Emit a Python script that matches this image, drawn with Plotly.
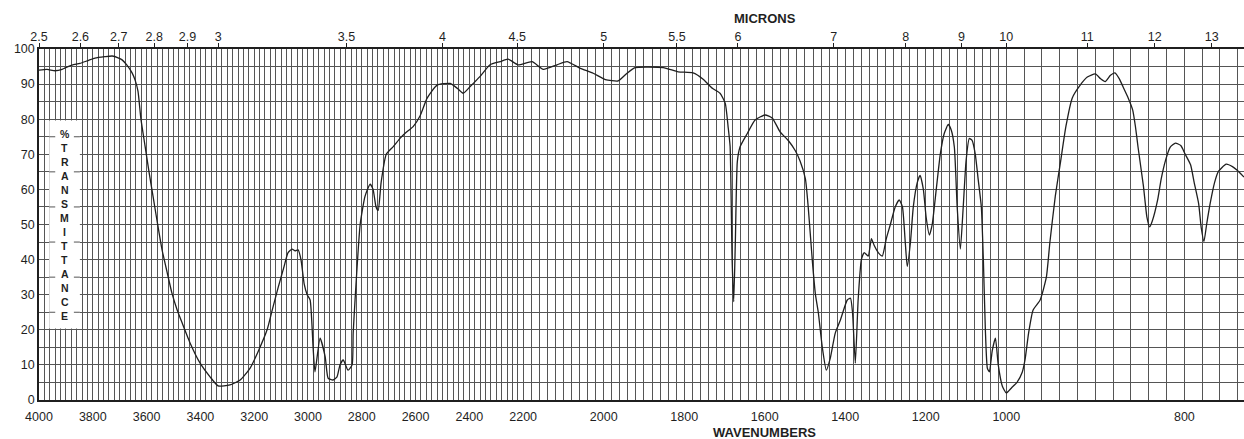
import numpy as np
import plotly.graph_objects as go

# ---------------- data ----------------
wavenumber = [4000, 3970, 3940, 3914, 3903, 3877, 3848, 3818, 3792, 3755, 3728, 3706, 3691, 3673,
              3654, 3643, 3632, 3621, 3606, 3591, 3576, 3561, 3543, 3524, 3506, 3487, 3468, 3438, 3401,
              3364, 3334, 3290, 3252, 3215, 3186, 3152, 3133, 3111, 3089, 3074, 3059, 3048, 3037,
              3026, 3014, 3003, 2992, 2981, 2974, 2955, 2936, 2925, 2907, 2892, 2881, 2869, 2851,
              2836, 2832, 2825, 2806, 2788, 2769, 2758, 2747, 2739, 2728, 2709, 2683, 2657, 2639,
              2609, 2583, 2557, 2520, 2471, 2445, 2423, 2397, 2360, 2323, 2286, 2256, 2219, 2178,
              2150, 2116, 2091, 2058, 2026, 1996, 1964, 1942, 1922, 1852, 1815, 1778, 1753, 1730,
              1711, 1698, 1691, 1686, 1681, 1677, 1673, 1668, 1661, 1643, 1624, 1599, 1581, 1562,
              1542, 1524, 1512, 1499, 1492, 1482, 1474, 1467, 1457, 1447, 1437, 1425, 1412, 1395,
              1387, 1382, 1375, 1368, 1360, 1353, 1343, 1335, 1328, 1318, 1308, 1298, 1288, 1276,
              1266, 1258, 1251, 1246, 1238, 1231, 1221, 1214, 1206, 1199, 1191, 1184, 1174, 1164,
              1154, 1144, 1137, 1129, 1122, 1114, 1107, 1100, 1092, 1085, 1077, 1070, 1062, 1057,
              1052, 1047, 1042, 1035, 1027, 1020, 1010, 1000, 994, 988, 982, 979, 975, 970, 962,
              955, 951, 945, 939, 933, 926, 917, 909, 900, 894, 889, 883, 878, 873, 869, 863, 858,
              855, 852, 846, 842, 839, 836, 830, 826, 821, 816, 810, 804, 799, 793, 789, 784, 781,
              778, 775, 771, 766, 762, 753, 746, 741, 733]
transmittance = [94.0, 94.2, 93.8, 94.2, 94.6, 95.4, 95.9, 96.7, 97.4, 97.8, 98.0, 97.5, 96.9, 95.4,
                 93.2, 91.2, 88.0, 80.0, 72.5, 65.0, 58.0, 51.0, 43.0, 36.5, 30.5, 25.8, 22.0, 16.2, 10.5,
                 6.6, 4.0, 4.3, 5.7, 9.1, 13.7, 20.0, 25.6, 32.0, 38.0, 42.0, 43.0, 42.5, 42.8,
                 40.0, 33.0, 30.0, 28.5, 15.0, 8.0, 17.6, 12.3, 6.2, 5.7, 6.6, 10.0, 11.4, 8.5,
                 10.0, 19.0, 28.5, 50.0, 58.0, 61.5, 60.0, 55.0, 54.0, 62.0, 70.0, 72.2, 74.6, 76.0,
                 77.9, 81.0, 86.0, 89.7, 90.2, 88.8, 87.4, 89.3, 92.2, 95.5, 96.4, 97.1, 95.5, 96.4,
                 94.2, 95.5, 96.4, 94.5, 93.1, 91.3, 90.9, 93.1, 94.7, 94.7, 93.5, 93.2, 91.4, 88.8,
                 87.4, 84.5, 77.9, 72.2, 40.0, 28.0, 45.0, 68.0, 72.2, 76.0, 79.8, 81.2, 80.3, 76.4,
                 74.0, 71.0, 68.0, 63.0, 55.0, 40.0, 30.0, 25.0, 15.0, 8.5, 12.0, 19.0, 22.8, 28.5,
                 29.0, 25.0, 10.5, 28.5, 40.0, 42.0, 41.0, 46.0, 44.0, 42.0, 41.0, 46.0, 50.0, 55.0,
                 57.0, 55.0, 45.0, 38.0, 45.0, 55.0, 62.0, 64.0, 60.0, 52.0, 47.0, 50.0, 60.0, 70.0,
                 76.0, 78.5, 77.0, 72.0, 55.0, 43.0, 55.0, 68.0, 74.5, 74.0, 70.0, 63.0, 55.0, 40.0,
                 20.0, 9.0, 8.0, 14.0, 17.6, 10.0, 4.0, 2.0, 3.5, 5.0, 8.0, 11.4, 19.0, 25.6, 28.5,
                 35.0, 45.0, 58.0, 68.0, 78.0, 86.0, 89.7, 92.0, 92.9, 91.5, 90.7, 92.5, 93.2, 91.5, 89.3, 86.0, 82.6,
                 78.0, 72.0, 61.0, 52.0, 49.3, 51.0, 57.0, 63.0, 68.4, 72.0, 73.2, 72.5, 70.0, 67.0, 62.0, 56.0, 49.0,
                 45.1, 50.0, 56.0, 62.0, 65.0, 67.2, 66.5, 65.5, 63.5]

wavenumber_labels = [4000, 3800, 3600, 3400, 3200, 3000, 2800, 2600, 2400, 2200, 2000,
                     1800, 1600, 1400, 1200, 1000, 800]
micron_labels = [2.5, 2.6, 2.7, 2.8, 2.9, 3, 3.5, 4, 4.5, 5, 5.5, 6, 7, 8, 9, 10, 11, 12, 13]
percent_labels = [0, 10, 20, 30, 40, 50, 60, 70, 80, 90, 100]
box_letters = ["%", "T", "R", "A", "N", "S", "M", "I", "T", "T", "A", "N", "C", "E"]

# ---------------- chart scale (piecewise-linear wavenumber axis) ----------------
S1, S2, S3 = 0.2689, 0.4025, 0.89


def u(nu):
    nu = np.asarray(nu, dtype=float)
    return np.where(nu >= 2200, (4000 - nu) * S1,
                    np.where(nu >= 1000, 1800 * S1 + (2200 - nu) * S2,
                             1800 * S1 + 1200 * S2 + (1000 - nu) * S3))


NU_MIN = 733
x_range = [0, float(u(NU_MIN))]

grid_nu = list(range(4000, 739, -20))
grid_text = [str(n) if n in wavenumber_labels else "" for n in grid_nu]
micron_pos = [float(u(10000.0 / m)) for m in micron_labels]
micron_text = [("%g" % m) for m in micron_labels]
ygrid = list(range(0, 101, 5))
ytext = [str(v) if v in percent_labels else "" for v in ygrid]

FONT = "Liberation Sans, Arial, Helvetica, sans-serif"
GRID = "rgb(85,85,85)"
INK = "#1f1f1f"

fig = go.Figure()
fig.add_trace(go.Scatter(x=u(wavenumber), y=transmittance, mode="lines",
                         line=dict(color=INK, width=1.3, shape="spline", smoothing=0.5),
                         hoverinfo="skip", showlegend=False))
fig.add_trace(go.Scatter(x=[None], y=[None], xaxis="x2", showlegend=False, hoverinfo="skip"))

# %TRANSMITTANCE box
bx0, bx1 = float(u(3962)), float(u(3848))
shapes = [dict(type="rect", xref="x", yref="y", x0=bx0, x1=bx1, y0=20.4, y1=79.6,
               fillcolor="white", line=dict(width=0), layer="above")]
for lev in [25, 35, 45, 55, 65, 75]:
    shapes.append(dict(type="line", xref="x", yref="y", x0=bx0, x1=bx0 + 6, y0=lev, y1=lev,
                       line=dict(color=GRID, width=1), layer="above"))
    shapes.append(dict(type="line", xref="x", yref="y", x0=bx1 - 6, x1=bx1, y0=lev, y1=lev,
                       line=dict(color=GRID, width=1), layer="above"))

annotations = []
bxc = (bx0 + bx1) / 2
for i, ch in enumerate(box_letters):
    annotations.append(dict(x=bxc, y=75.8 - 4.0 * i, xref="x", yref="y", text="<b>%s</b>" % ch,
                            showarrow=False, font=dict(family=FONT, size=10.5, color=INK),
                            xanchor="center", yanchor="middle"))
annotations.append(dict(x=float(u(1600)), y=(400 - 18) / 351.0, xref="x", yref="paper",
                        text="<b>MICRONS</b>", showarrow=False,
                        font=dict(family=FONT, size=13, color=INK), xanchor="center", yanchor="middle"))
annotations.append(dict(x=float(u(1600)), y=(400 - 432) / 351.0, xref="x", yref="paper",
                        text="<b>WAVENUMBERS</b>", showarrow=False,
                        font=dict(family=FONT, size=13, color=INK), xanchor="center", yanchor="middle"))

fig.update_layout(
    width=1244, height=439,
    margin=dict(l=39, r=0, t=49, b=39),
    paper_bgcolor="white", plot_bgcolor="white",
    showlegend=False,
    shapes=shapes, annotations=annotations,
    xaxis=dict(range=x_range, tickmode="array", tickvals=[float(v) for v in u(grid_nu)],
               ticktext=grid_text, showgrid=True, gridcolor=GRID, gridwidth=1,
               ticks="", showline=True, linecolor=INK, linewidth=1.5, zeroline=False,
               ticklabelstandoff=4,
               tickfont=dict(family=FONT, size=12.5, color=INK), fixedrange=True),
    xaxis2=dict(range=x_range, overlaying="x", side="top", anchor="y", tickmode="array",
                tickvals=micron_pos, ticktext=micron_text, ticks="outside", ticklen=4,
                tickcolor=INK, showgrid=False, showline=True, linecolor=INK, linewidth=1.5,
                zeroline=False, ticklabelstandoff=-3,
                tickfont=dict(family=FONT, size=12.5, color=INK)),
    yaxis=dict(range=[0, 100], tickmode="array", tickvals=ygrid, ticktext=ytext,
               showgrid=True, gridcolor=GRID, gridwidth=1, ticks="", showline=True,
               linecolor=INK, linewidth=1.5, zeroline=False,
               tickfont=dict(family=FONT, size=12.5, color=INK)),
)

fig.write_html("out.html")
